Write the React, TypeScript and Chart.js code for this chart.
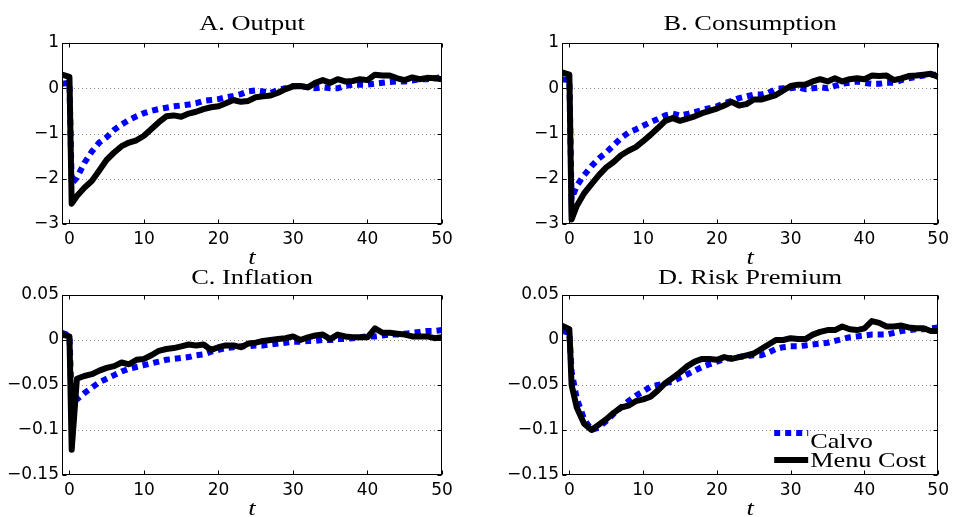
import React, { useEffect, useRef } from "react";
import { Chart, registerables } from "chart.js";
Chart.register(...registerables);

const tValues = [-1, 0, 0.3, 1, 2, 3, 4, 5, 6, 7, 8, 9, 10, 11, 12, 13, 14, 15, 16, 17, 18, 19, 20, 21, 22, 23, 24, 25, 26, 27, 28, 29, 30, 31, 32, 33, 34, 35, 36, 37, 38, 39, 40, 41, 42, 43, 44, 45, 46, 47, 48, 49, 50];

const outputCalvo = [0.1, 0.12, -2.1, -1.98, -1.65, -1.4, -1.2, -1.08, -0.92, -0.8, -0.7, -0.62, -0.55, -0.5, -0.46, -0.43, -0.4, -0.38, -0.36, -0.33, -0.28, -0.26, -0.24, -0.2, -0.17, -0.13, -0.07, -0.05, -0.07, -0.1, -0.04, 0, 0.05, 0.05, 0.02, 0, 0.02, 0, 0, 0.05, 0.08, 0.08, 0.08, 0.1, 0.12, 0.14, 0.15, 0.15, 0.17, 0.2, 0.2, 0.22, 0.25];
const outputMenu = [0.3, 0.25, -2.55, -2.38, -2.2, -2.05, -1.82, -1.58, -1.42, -1.28, -1.2, -1.15, -1.05, -0.9, -0.75, -0.62, -0.6, -0.63, -0.56, -0.52, -0.46, -0.42, -0.4, -0.33, -0.26, -0.3, -0.28, -0.2, -0.18, -0.16, -0.1, -0.02, 0.04, 0.05, 0.02, 0.12, 0.18, 0.12, 0.2, 0.15, 0.16, 0.2, 0.18, 0.3, 0.28, 0.28, 0.22, 0.18, 0.24, 0.2, 0.23, 0.22, 0.2];

const consCalvo = [0.2, 0.18, -2.45, -2.15, -1.92, -1.72, -1.55, -1.42, -1.26, -1.1, -0.98, -0.91, -0.83, -0.75, -0.68, -0.6, -0.56, -0.6, -0.57, -0.53, -0.48, -0.44, -0.4, -0.33, -0.28, -0.22, -0.18, -0.14, -0.14, -0.1, -0.02, 0, 0, 0.02, -0.02, 0, 0.02, 0, 0.05, 0.1, 0.12, 0.15, 0.12, 0.1, 0.1, 0.12, 0.12, 0.18, 0.22, 0.25, 0.28, 0.3, 0.3];
const consMenu = [0.35, 0.3, -2.9, -2.6, -2.32, -2.12, -1.92, -1.75, -1.63, -1.48, -1.38, -1.3, -1.17, -1.03, -0.88, -0.72, -0.66, -0.72, -0.67, -0.62, -0.55, -0.5, -0.45, -0.38, -0.3, -0.38, -0.35, -0.25, -0.25, -0.2, -0.15, -0.05, 0.05, 0.08, 0.08, 0.15, 0.2, 0.15, 0.22, 0.15, 0.2, 0.22, 0.2, 0.28, 0.27, 0.28, 0.18, 0.22, 0.27, 0.28, 0.3, 0.32, 0.25];

const inflCalvo = [0.008, 0.005, -0.068, -0.066, -0.059, -0.053, -0.047, -0.043, -0.039, -0.035, -0.032, -0.03, -0.028, -0.026, -0.024, -0.022, -0.021, -0.02, -0.019, -0.017, -0.016, -0.013, -0.011, -0.009, -0.008, -0.007, -0.007, -0.006, -0.006, -0.005, -0.004, -0.003, -0.002, -0.002, -0.001, -0.001, 0, 0, 0.001, 0.001, 0.002, 0.003, 0.004, 0.004, 0.005, 0.006, 0.006, 0.007, 0.008, 0.009, 0.01, 0.01, 0.011];
const inflMenu = [0.006, 0.004, -0.122, -0.043, -0.04, -0.038, -0.034, -0.031, -0.029, -0.025, -0.027, -0.022, -0.021, -0.017, -0.012, -0.01, -0.009, -0.007, -0.005, -0.006, -0.005, -0.011, -0.008, -0.006, -0.006, -0.008, -0.004, -0.003, -0.001, 0, 0.001, 0.002, 0.004, 0, 0.003, 0.005, 0.006, 0.001, 0.006, 0.004, 0.003, 0.003, 0.003, 0.013, 0.008, 0.008, 0.007, 0.006, 0.004, 0.004, 0.004, 0.002, 0.003];

const riskCalvo = [0.01, 0.008, -0.035, -0.065, -0.088, -0.1, -0.097, -0.09, -0.082, -0.075, -0.068, -0.062, -0.057, -0.052, -0.05, -0.048, -0.046, -0.042, -0.038, -0.034, -0.03, -0.027, -0.024, -0.021, -0.02, -0.019, -0.018, -0.017, -0.017, -0.014, -0.01, -0.008, -0.007, -0.007, -0.006, -0.005, -0.004, -0.003, -0.001, 0.001, 0.003, 0.004, 0.005, 0.006, 0.006, 0.006, 0.008, 0.01, 0.011, 0.012, 0.012, 0.013, 0.014];
const riskMenu = [0.016, 0.012, -0.05, -0.075, -0.093, -0.1, -0.094, -0.088, -0.081, -0.075, -0.073, -0.068, -0.066, -0.063, -0.056, -0.048, -0.042, -0.036, -0.029, -0.024, -0.021, -0.021, -0.022, -0.019, -0.021, -0.019, -0.017, -0.015, -0.01, -0.005, 0, 0, 0.002, 0.001, 0.001, 0.006, 0.009, 0.011, 0.011, 0.015, 0.012, 0.011, 0.013, 0.021, 0.019, 0.015, 0.015, 0.016, 0.014, 0.013, 0.013, 0.01, 0.01];

const xTicks = [0, 10, 20, 30, 40, 50];
const levelTicks = [-3, -2, -1, 0, 1];
const rateTicks = [-0.15, -0.1, -0.05, 0, 0.05];
const seriesNames = ["Calvo", "Menu Cost"];
const panelTitles = ["A. Output", "B. Consumption", "C. Inflation", "D. Risk Premium"];
const xLabel = "t";

const SERIF = '"Liberation Serif", "Times New Roman", serif';
const SANS = '"DejaVu Sans", sans-serif';
const STRETCH = 1.2;
const CALVO_DASH = [6, 5];

function fmtTick(v: number): string {
  const r = Math.round(v * 1000) / 1000;
  if (r < 0) return "\u2212" + String(Math.abs(r));
  return String(r);
}

function drawStretched(ctx: CanvasRenderingContext2D, text: string, x: number, y: number, font: string, align: CanvasTextAlign, stretch: number) {
  ctx.save();
  ctx.font = font;
  ctx.textAlign = align;
  ctx.textBaseline = "alphabetic";
  ctx.fillStyle = "#000";
  ctx.translate(x, y);
  ctx.scale(stretch, 1);
  ctx.fillText(text, 0, 0);
  ctx.restore();
}

const decorPlugin = {
  id: "decor",
  beforeDatasetsDraw(chart: any) {
    const { ctx, chartArea: a, scales } = chart;
    const o = chart.options.plugins.decor;
    ctx.save();
    ctx.strokeStyle = "#8a8a8a";
    ctx.lineWidth = 1;
    ctx.setLineDash([1, 3]);
    (o.yTicks as number[]).forEach((v) => {
      const y = Math.round(scales.y.getPixelForValue(v)) + 0.5;
      if (y <= a.top + 1 || y >= a.bottom - 1) return;
      ctx.beginPath();
      ctx.moveTo(a.left, y);
      ctx.lineTo(a.right, y);
      ctx.stroke();
    });
    ctx.restore();
  },
  afterDraw(chart: any) {
    const { ctx, chartArea: a, scales } = chart;
    const o = chart.options.plugins.decor;
    ctx.save();
    ctx.strokeStyle = "#000";
    ctx.lineWidth = 1;
    ctx.setLineDash([]);
    const L = Math.round(a.left) + 0.5;
    const R = Math.round(a.right) - 0.5;
    const T = Math.round(a.top) + 0.5;
    const B = Math.round(a.bottom) - 0.5;
    ctx.strokeRect(L, T, R - L, B - T);
    const tl = 4;
    ctx.beginPath();
    xTicks.forEach((v) => {
      const x = Math.round(scales.x.getPixelForValue(v)) + 0.5;
      ctx.moveTo(x, B);
      ctx.lineTo(x, B - tl);
      ctx.moveTo(x, T);
      ctx.lineTo(x, T + tl);
    });
    (o.yTicks as number[]).forEach((v) => {
      const y = Math.round(scales.y.getPixelForValue(v)) + 0.5;
      ctx.moveTo(L, y);
      ctx.lineTo(L + tl, y);
      ctx.moveTo(R, y);
      ctx.lineTo(R - tl, y);
    });
    ctx.stroke();
    ctx.restore();

    const cx = (a.left + a.right) / 2;
    drawStretched(ctx, o.title, cx, a.top - o.titleGap, "22px " + SERIF, "center", STRETCH);
    drawStretched(ctx, xLabel, cx, a.bottom + 40, "italic 22px " + SERIF, "center", STRETCH);

    if (o.legend) {
      const x0 = a.right - 164;
      const x1 = a.right - 130;
      ctx.save();
      ctx.lineWidth = 6;
      ctx.strokeStyle = "#0000ff";
      ctx.setLineDash(CALVO_DASH);
      ctx.beginPath();
      ctx.moveTo(x0, a.bottom - 42);
      ctx.lineTo(x1, a.bottom - 42);
      ctx.stroke();
      ctx.setLineDash([]);
      ctx.strokeStyle = "#000";
      ctx.beginPath();
      ctx.moveTo(x0, a.bottom - 15);
      ctx.lineTo(x1, a.bottom - 15);
      ctx.stroke();
      ctx.restore();
      drawStretched(ctx, seriesNames[0], x1 + 2, a.bottom - 27, "21px " + SERIF, "left", 1.25);
      drawStretched(ctx, seriesNames[1], x1 + 2, a.bottom - 8, "21px " + SERIF, "left", 1.25);
    }
  },
};

type Panel = {
  left: number;
  top: number;
  width: number;
  height: number;
  yAxisWidth: number;
  padTop: number;
  padRight: number;
  xAxisHeight: number;
  titleGap: number;
  title: string;
  calvo: number[];
  menu: number[];
  yTicks: number[];
  legend: boolean;
};

const panels: Panel[] = [
  { left: 0, top: 0, width: 477, height: 270, yAxisWidth: 62, padTop: 43, padRight: 35, xAxisHeight: 46, titleGap: 13, title: panelTitles[0], calvo: outputCalvo, menu: outputMenu, yTicks: levelTicks, legend: false },
  { left: 477, top: 0, width: 477, height: 270, yAxisWidth: 85, padTop: 43, padRight: 12, xAxisHeight: 46, titleGap: 13, title: panelTitles[1], calvo: consCalvo, menu: consMenu, yTicks: levelTicks, legend: false },
  { left: 0, top: 258, width: 477, height: 259, yAxisWidth: 62, padTop: 37, padRight: 35, xAxisHeight: 42, titleGap: 11, title: panelTitles[2], calvo: inflCalvo, menu: inflMenu, yTicks: rateTicks, legend: false },
  { left: 477, top: 258, width: 477, height: 259, yAxisWidth: 85, padTop: 37, padRight: 12, xAxisHeight: 42, titleGap: 11, title: panelTitles[3], calvo: riskCalvo, menu: riskMenu, yTicks: rateTicks, legend: true },
];

function PanelChart({ p }: { p: Panel }) {
  const ref = useRef<HTMLCanvasElement | null>(null);
  useEffect(() => {
    if (!ref.current) return;
    const yMin = p.yTicks[0];
    const yMax = p.yTicks[p.yTicks.length - 1];
    const chart = new Chart(ref.current, {
      type: "line",
      data: {
        datasets: [
          {
            label: seriesNames[0],
            data: tValues.map((t, i) => ({ x: t, y: p.calvo[i] })),
            borderColor: "#0000ff",
            borderWidth: 6,
            borderDash: CALVO_DASH,
            borderCapStyle: "butt",
            pointRadius: 0,
            tension: 0,
            fill: false,
            clip: 0,
            order: 1,
          },
          {
            label: seriesNames[1],
            data: tValues.map((t, i) => ({ x: t, y: p.menu[i] })),
            borderColor: "#000000",
            borderWidth: 6,
            borderJoinStyle: "round",
            pointRadius: 0,
            tension: 0,
            fill: false,
            clip: 0,
            order: 0,
          },
        ],
      } as any,
      options: {
        animation: false,
        responsive: false,
        maintainAspectRatio: false,
        devicePixelRatio: 1,
        layout: { padding: { left: 0, top: p.padTop, right: p.padRight, bottom: 0 } },
        plugins: {
          legend: { display: false },
          tooltip: { enabled: false },
          title: { display: false },
          decor: { title: p.title, titleGap: p.titleGap, yTicks: p.yTicks, legend: p.legend },
        } as any,
        scales: {
          x: {
            type: "linear",
            min: -1,
            max: 50,
            afterBuildTicks: (s: any) => {
              s.ticks = xTicks.map((value) => ({ value }));
            },
            afterFit: (s: any) => {
              s.height = p.xAxisHeight;
            },
            grid: { display: false, drawTicks: false },
            border: { display: false },
            ticks: {
              color: "#000",
              font: { family: SANS, size: 17 },
              padding: 5,
              maxRotation: 0,
              autoSkip: false,
              callback: (v: any) => fmtTick(Number(v)),
            },
          },
          y: {
            type: "linear",
            min: yMin,
            max: yMax,
            afterBuildTicks: (s: any) => {
              s.ticks = p.yTicks.map((value) => ({ value }));
            },
            afterFit: (s: any) => {
              s.width = p.yAxisWidth;
            },
            grid: { display: false, drawTicks: false },
            border: { display: false },
            ticks: {
              color: "#000",
              font: { family: SANS, size: 17 },
              padding: 3,
              autoSkip: false,
              callback: (v: any) => fmtTick(Number(v)),
            },
          },
        } as any,
      },
      plugins: [decorPlugin as any],
    });
    return () => chart.destroy();
  }, [p]);
  return (
    <canvas
      ref={ref}
      width={p.width}
      height={p.height}
      style={{ position: "absolute", left: p.left, top: p.top, width: p.width, height: p.height }}
    />
  );
}

export default function App() {
  return (
    <div style={{ position: "absolute", left: 0, top: 0, width: 954, height: 517, background: "#fff", overflow: "hidden" }}>
      {panels.map((p, i) => (
        <PanelChart key={i} p={p} />
      ))}
    </div>
  );
}
